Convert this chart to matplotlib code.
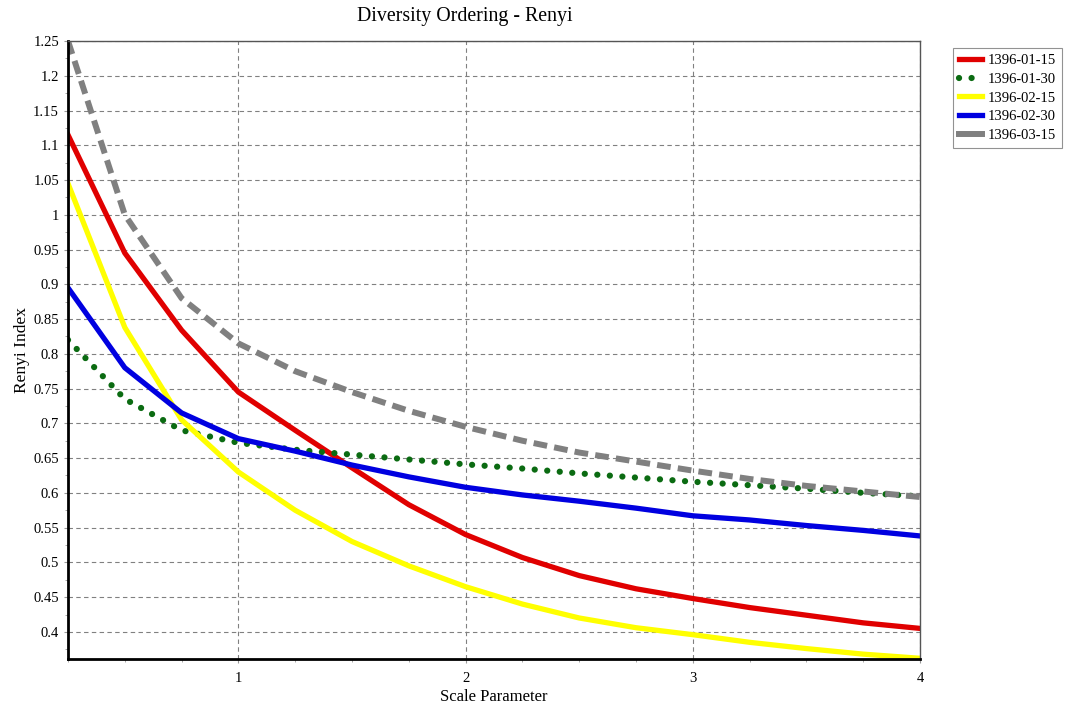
import matplotlib
matplotlib.use("Agg")
import matplotlib.pyplot as plt
from matplotlib.ticker import MultipleLocator, FixedLocator

scale = [0.25, 0.5, 0.75, 1.0, 1.25, 1.5, 1.75, 2.0, 2.25, 2.5, 2.75, 3.0, 3.25, 3.5, 3.75, 4.0]

r_0115 = [1.115, 0.945, 0.834, 0.745, 0.690, 0.636, 0.583, 0.540, 0.507, 0.481, 0.462, 0.448, 0.435, 0.424, 0.413, 0.405]
r_0130 = [0.820, 0.735, 0.690, 0.672, 0.662, 0.655, 0.648, 0.641, 0.635, 0.628, 0.622, 0.616, 0.611, 0.606, 0.600, 0.595]
r_0215 = [1.045, 0.838, 0.705, 0.630, 0.575, 0.530, 0.495, 0.465, 0.440, 0.420, 0.406, 0.396, 0.385, 0.376, 0.368, 0.362]
r_0230 = [0.895, 0.780, 0.715, 0.678, 0.660, 0.640, 0.623, 0.608, 0.597, 0.588, 0.578, 0.567, 0.561, 0.553, 0.546, 0.538]
r_0315 = [1.250, 1.000, 0.880, 0.815, 0.775, 0.745, 0.718, 0.695, 0.675, 0.658, 0.645, 0.632, 0.620, 0.610, 0.602, 0.594]

yticks = [round(0.4 + 0.05 * i, 2) for i in range(18)]

serif = "Liberation Serif"

fig = plt.figure(figsize=(10.67, 7.08), dpi=100)
ax = fig.add_axes([68/1067, 49/708, 852/1067, 618/708])

ax.plot(scale, r_0115, color="#e00000", lw=3.8, label="1396-01-15")
ax.plot(scale, r_0130, color="#0b6b12", lw=4.5, ls=(0, (0.01, 2.0)), dash_capstyle="round", label="1396-01-30")
ax.plot(scale, r_0215, color="#ffff00", lw=3.8, label="1396-02-15")
ax.plot(scale, r_0230, color="#0000e0", lw=3.8, label="1396-02-30")
ax.plot(scale, r_0315, color="#808080", lw=4.3, ls=(0, (2.3, 1.2)), label="1396-03-15")

ax.set_xlim(0.25, 4)
ax.set_ylim(0.361, 1.25)
ax.xaxis.set_major_locator(FixedLocator([1, 2, 3, 4]))
ax.xaxis.set_minor_locator(MultipleLocator(0.25))
ax.yaxis.set_major_locator(FixedLocator(yticks))
ax.set_yticklabels(["%g" % v for v in yticks])
ax.yaxis.set_minor_locator(MultipleLocator(0.025))

ax.grid(True, which="major", color="#808080", ls=(0, (4, 3)), lw=0.8)
ax.tick_params(axis="both", which="major", length=3, width=0.8, color="#999999", labelsize=10.5)
ax.tick_params(axis="x", which="major", pad=6)
ax.tick_params(axis="both", which="minor", length=2, width=0.6, color="#999999")
for lbl in ax.get_yticklabels() + ax.get_xticklabels():
    lbl.set_fontfamily(serif)

for s in ["left", "bottom"]:
    ax.spines[s].set_linewidth(2)
    ax.spines[s].set_color("black")
for s in ["top", "right"]:
    ax.spines[s].set_linewidth(1)
    ax.spines[s].set_color("#555555")

fig.text(465/1067, 1 - 17/708, "Diversity Ordering - Renyi", fontfamily=serif, fontsize=14.3,
         ha="center", va="center")
ax.set_xlabel("Scale Parameter", fontfamily=serif, fontsize=12, labelpad=3)
ax.set_ylabel("Renyi Index", fontfamily=serif, fontsize=12.5, labelpad=2)

leg = fig.legend(loc="upper left", bbox_to_anchor=(953/1067, 1 - 48/708),
                 prop={"family": serif, "size": 10.5}, fancybox=False,
                 edgecolor="#777777", handlelength=1.6, handletextpad=0.4,
                 labelspacing=0.38, borderpad=0.4, borderaxespad=0)
leg.get_frame().set_linewidth(0.8)
# the gray one shows as a single short dash in the original legend
leg.get_lines()[4].set_linestyle("-")

fig.savefig("out.png", dpi=100)
